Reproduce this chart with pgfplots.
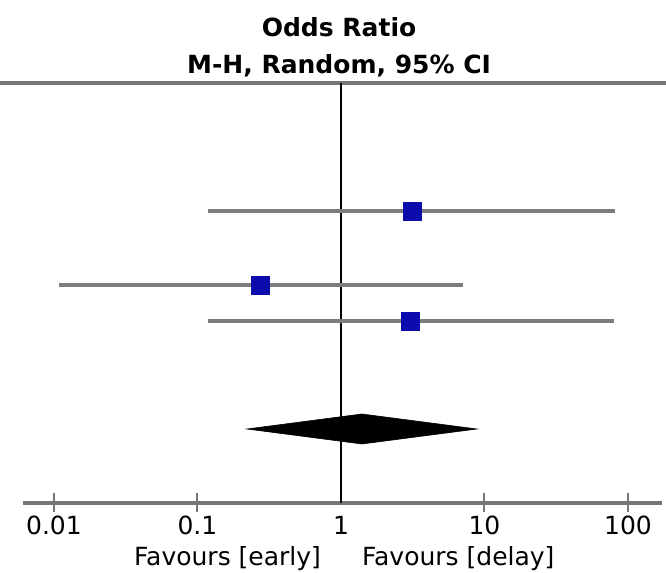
\documentclass[border=0pt]{standalone}
\usepackage{fontspec}
\setmainfont{DejaVu Sans}
\usepackage{pgfplots}
\pgfplotsset{compat=1.18}
\definecolor{sqblue}{RGB}{12,12,172}
\definecolor{cigray}{RGB}{125,125,125}
\definecolor{axgray}{RGB}{118,118,118}
\begin{document}%
\begin{tikzpicture}[font=\fontsize{12.5}{15}\selectfont]
\begin{axis}[
  scale only axis, width=333pt, height=286.5pt,
  xmode=log, xmin=0.004206, xmax=184.1, ymin=0, ymax=573,
  hide axis, clip=false,
  every node/.style={inner sep=0pt, outer sep=0pt},
]
\coordinate (BL) at (axis cs:0.004206,0);
\coordinate (TR) at (axis cs:184.1,573);
% frame lines
\addplot[axgray, line width=2pt, line cap=butt] coordinates {(0.004206,490) (184.1,490)};
\addplot[axgray, line width=2pt, line cap=butt] coordinates {(0.00608,70) (172.6,70)};
\addplot[black, line width=1pt] coordinates {(1,490) (1,70)};
% ticks
\addplot[axgray, line width=1pt] coordinates {(0.01,80) (0.01,61)};
\addplot[axgray, line width=1pt] coordinates {(0.1,80) (0.1,61)};
\addplot[axgray, line width=1pt] coordinates {(10,80) (10,61)};
\addplot[axgray, line width=1pt] coordinates {(100,80) (100,61)};
% confidence intervals
\addplot[cigray, line width=2pt, line cap=butt] coordinates {(0.118,362) (81.2,362)};
\addplot[cigray, line width=2pt, line cap=butt] coordinates {(0.0108,288) (7.08,288)};
\addplot[cigray, line width=2pt, line cap=butt] coordinates {(0.118,252) (79.9,252)};
% point estimates
\addplot[only marks, mark=square*, mark size=4.5pt, color=sqblue] coordinates {(3.13,362) (0.273,288) (3.07,252)};
% pooled diamond
\addplot[fill=black, draw=black, line width=0.3pt] coordinates {(0.221,144) (1.40,159) (8.87,144) (1.40,129)} -- cycle;
% texts
\node[anchor=base] at (axis cs:0.97,536) {\bfseries Odds Ratio};
\node[anchor=base] at (axis cs:0.97,499) {\bfseries M-H, Random, 95\% CI};
\node[anchor=base] at (axis cs:0.01,38) {0.01};
\node[anchor=base] at (axis cs:0.1,38) {0.1};
\node[anchor=base] at (axis cs:1,38) {1};
\node[anchor=base] at (axis cs:10,38) {10};
\node[anchor=base] at (axis cs:100,38) {100};
\node[anchor=base east] at (axis cs:0.812,7) {Favours [early]};
\node[anchor=base west] at (axis cs:1.252,7) {Favours [delay]};
\end{axis}
\pgfresetboundingbox
\useasboundingbox (BL) rectangle (TR);
\end{tikzpicture}%
\end{document}
